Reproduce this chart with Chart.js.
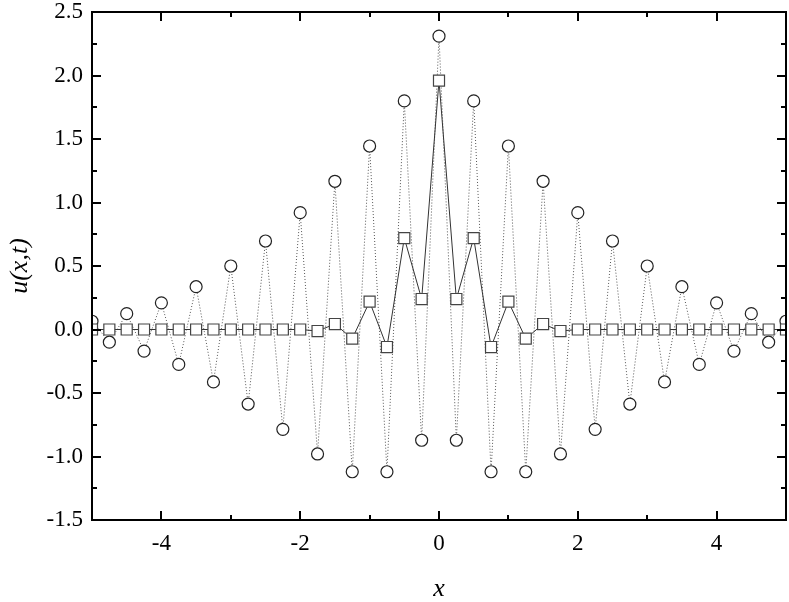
<!DOCTYPE html>
<html>
<head>
<meta charset="utf-8">
<script src="https://cdn.jsdelivr.net/npm/chart.js@4.4.0/dist/chart.umd.min.js"></script>
<style>
  html, body { margin: 0; padding: 0; background: #fff; overflow: hidden; }
  #wrap { width: 789px; height: 602px; overflow: hidden; }
  canvas { display: block; }
</style>
</head>
<body>
<div id="wrap"><canvas id="myChart" width="795" height="602"></canvas></div>
<script>
const ctx = document.getElementById('myChart');

var xValues = [-5, -4.75, -4.5, -4.25, -4, -3.75, -3.5, -3.25, -3, -2.75, -2.5, -2.25, -2, -1.75, -1.5, -1.25, -1, -0.75, -0.5, -0.25,
  0, 0.25, 0.5, 0.75, 1, 1.25, 1.5, 1.75, 2, 2.25, 2.5, 2.75, 3, 3.25, 3.5, 3.75, 4, 4.25, 4.5, 4.75, 5];
var cerchi = [0.065, -0.10, 0.125, -0.17, 0.21, -0.275, 0.337, -0.413, 0.50, -0.587, 0.697, -0.786, 0.92, -0.98, 1.167, -1.12, 1.445, -1.12, 1.80, -0.872,
  2.31, -0.872, 1.80, -1.12, 1.445, -1.12, 1.167, -0.98, 0.92, -0.786, 0.697, -0.587, 0.50, -0.413, 0.337, -0.275, 0.21, -0.17, 0.125, -0.10, 0.065];
var quadrati = [0, 0, 0, 0, 0, 0, 0, 0, 0, 0, 0, 0, 0, -0.012, 0.043, -0.072, 0.219, -0.138, 0.72, 0.24,
  1.96, 0.24, 0.72, -0.138, 0.219, -0.072, 0.043, -0.012, 0, 0, 0, 0, 0, 0, 0, 0, 0, 0, 0, 0, 0];

// tacche
var xMajor = [-4, -2, 0, 2, 4];
var xMinor = [-5, -3, -1, 1, 3, 5];
var yMajor = [-1.5, -1.0, -0.5, 0, 0.5, 1.0, 1.5, 2.0, 2.5];
var yMinor = [-1.25, -0.75, -0.25, 0.25, 0.75, 1.25, 1.75, 2.25];

function punti(ys) {
  return xValues.map(function (x, i) { return { x: x, y: ys[i] }; });
}

const FONT = 'Liberation Serif';

function azzera(s) {
  s.paddingLeft = 0; s.paddingRight = 0; s.paddingTop = 0; s.paddingBottom = 0;
}

// cornice e tacche interne su tutti i lati
const cornice = {
  id: 'cornice',
  afterDraw(chart) {
    const c = chart.ctx, a = chart.chartArea;
    const sx = chart.scales.x, sy = chart.scales.y;
    c.save();
    c.strokeStyle = '#000';
    c.lineWidth = 2;
    c.beginPath();
    function tx(v, len) {
      const p = Math.round(sx.getPixelForValue(v));
      c.moveTo(p, a.bottom); c.lineTo(p, a.bottom - len);
      c.moveTo(p, a.top); c.lineTo(p, a.top + len);
    }
    function ty(v, len) {
      const p = Math.round(sy.getPixelForValue(v));
      c.moveTo(a.left, p); c.lineTo(a.left + len, p);
      c.moveTo(a.right, p); c.lineTo(a.right - len, p);
    }
    xMajor.forEach(function (v) { tx(v, 9); });
    xMinor.forEach(function (v) { tx(v, 5); });
    yMajor.forEach(function (v) { ty(v, 9); });
    yMinor.forEach(function (v) { ty(v, 5); });
    c.stroke();
    c.strokeRect(a.left, a.top, a.right - a.left, a.bottom - a.top);
    c.restore();
  }
};

new Chart(ctx, {
  type: 'scatter',
  data: {
    datasets: [
      {
        label: 'quadrati',
        data: punti(quadrati),
        showLine: true,
        borderWidth: 1,
        borderColor: '#333',
        pointStyle: 'rect',
        pointRadius: 7.8,
        pointBorderWidth: 1.2,
        pointBorderColor: '#444',
        pointBackgroundColor: '#fff',
        order: 0
      },
      {
        label: 'cerchi',
        data: punti(cerchi),
        showLine: true,
        borderWidth: 1,
        borderDash: [1, 2],
        borderColor: '#555',
        pointStyle: 'circle',
        pointRadius: 6,
        pointBorderWidth: 1.2,
        pointBorderColor: '#222',
        pointBackgroundColor: '#fff',
        order: 1
      }
    ]
  },
  options: {
    responsive: false,
    animation: false,
    layout: { padding: { top: 12, right: 3, left: 0, bottom: 0 } },
    plugins: { legend: { display: false }, tooltip: { enabled: false } },
    scales: {
      x: {
        type: 'linear',
        min: -5,
        max: 5,
        grid: { display: false, drawTicks: false },
        border: { display: false },
        afterFit: function (s) { s.height = 82; azzera(s); },
        ticks: {
          stepSize: 1,
          padding: 10,
          color: '#000',
          maxRotation: 0,
          autoSkip: false,
          font: { family: FONT, size: 23 },
          callback: function (v) { return xMajor.indexOf(v) >= 0 ? String(v) : ''; }
        },
        title: {
          display: true,
          text: 'x',
          color: '#000',
          padding: 0,
          font: { family: FONT, size: 26, style: 'italic', lineHeight: 1 }
        }
      },
      y: {
        min: -1.5,
        max: 2.5,
        grid: { display: false, drawTicks: false },
        border: { display: false },
        afterFit: function (s) { s.width = 92; azzera(s); },
        ticks: {
          stepSize: 0.5,
          padding: 9,
          color: '#000',
          font: { family: FONT, size: 23 },
          callback: function (v) { return v.toFixed(1); }
        },
        title: {
          display: true,
          text: 'u(x,t)',
          color: '#000',
          padding: { top: 7 },
          font: { family: FONT, size: 26, style: 'italic', lineHeight: 1 }
        }
      }
    }
  },
  plugins: [cornice]
});
</script>
</body>
</html>
